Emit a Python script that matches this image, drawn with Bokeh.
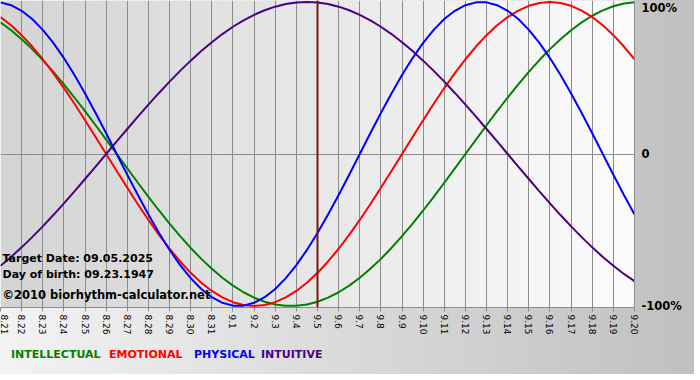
import math
import numpy as np
from bokeh.plotting import figure
from bokeh.layouts import column
from bokeh.models import Range1d, FixedTicker, Label, Span, LinearAxis, Div
from bokeh.embed import file_html
from bokeh.resources import INLINE

# ---- data ----
dates = ["8.21", "8.22", "8.23", "8.24", "8.25", "8.26", "8.27", "8.28", "8.29", "8.30", "8.31",
         "9.1", "9.2", "9.3", "9.4", "9.5", "9.6", "9.7", "9.8", "9.9", "9.10",
         "9.11", "9.12", "9.13", "9.14", "9.15", "9.16", "9.17", "9.18", "9.19", "9.20"]
target_date = "9.5"
info_target = "Target Date: 09.05.2025"
info_birth = "Day of birth: 09.23.1947"
info_copy = "\u00a92010 biorhythm-calculator.net"

# values sampled every half day, from 8.21 to 9.20
intellectual = [0.8660, 0.8146, 0.7557, 0.6901, 0.6182, 0.5406, 0.4582, 0.3717, 0.2817, 0.1893, 0.0951,
                0.0,
                -0.0951, -0.1893, -0.2817, -0.3717, -0.4582, -0.5406, -0.6182, -0.6901, -0.7557, -0.8146,
                -0.8660, -0.9096, -0.9450, -0.9718, -0.9898, -0.9989, -0.9989, -0.9898, -0.9718, -0.9450,
                -0.9096, -0.8660, -0.8146, -0.7557, -0.6901, -0.6182, -0.5406, -0.4582, -0.3717, -0.2817,
                -0.1893, -0.0951,
                0.0,
                0.0951, 0.1893, 0.2817, 0.3717, 0.4582, 0.5406, 0.6182, 0.6901, 0.7557, 0.8146, 0.8660,
                0.9096, 0.9450, 0.9718, 0.9898, 0.9989]
emotional = [0.9010, 0.8467, 0.7818, 0.7071, 0.6235, 0.5320, 0.4339, 0.3303, 0.2225, 0.1120,
             0.0,
             -0.1120, -0.2225, -0.3303, -0.4339, -0.5320, -0.6235, -0.7071, -0.7818, -0.8467, -0.9010,
             -0.9439, -0.9749, -0.9937, -1.0, -0.9937, -0.9749, -0.9439, -0.9010, -0.8467, -0.7818,
             -0.7071, -0.6235, -0.5320, -0.4339, -0.3303, -0.2225, -0.1120,
             0.0,
             0.1120, 0.2225, 0.3303, 0.4339, 0.5320, 0.6235, 0.7071, 0.7818, 0.8467, 0.9010, 0.9439,
             0.9749, 0.9937, 1.0, 0.9937, 0.9749, 0.9439, 0.9010, 0.8467, 0.7818, 0.7071, 0.6235]
physical = [0.9977, 0.9791, 0.9423, 0.8879, 0.8170, 0.7308, 0.6311, 0.5196, 0.3984, 0.2698, 0.1362,
            0.0,
            -0.1362, -0.2698, -0.3984, -0.5196, -0.6311, -0.7308, -0.8170, -0.8879, -0.9423, -0.9791,
            -0.9977, -0.9977, -0.9791, -0.9423, -0.8879, -0.8170, -0.7308, -0.6311, -0.5196, -0.3984,
            -0.2698, -0.1362,
            0.0,
            0.1362, 0.2698, 0.3984, 0.5196, 0.6311, 0.7308, 0.8170, 0.8879, 0.9423, 0.9791, 0.9977,
            0.9977, 0.9791, 0.9423, 0.8879, 0.8170, 0.7308, 0.6311, 0.5196, 0.3984, 0.2698, 0.1362,
            0.0,
            -0.1362, -0.2698, -0.3984]
intuitive = [-0.7357, -0.6773, -0.6142, -0.5469, -0.4759, -0.4017, -0.3247, -0.2455, -0.1646, -0.0826,
             0.0,
             0.0826, 0.1646, 0.2455, 0.3247, 0.4017, 0.4759, 0.5469, 0.6142, 0.6773, 0.7357, 0.7891,
             0.8372, 0.8795, 0.9158, 0.9458, 0.9694, 0.9864, 0.9966, 1.0, 0.9966, 0.9864, 0.9694,
             0.9458, 0.9158, 0.8795, 0.8372, 0.7891, 0.7357, 0.6773, 0.6142, 0.5469, 0.4759, 0.4017,
             0.3247, 0.2455, 0.1646, 0.0826,
             0.0,
             -0.0826, -0.1646, -0.2455, -0.3247, -0.4017, -0.4759, -0.5469, -0.6142, -0.6773, -0.7357,
             -0.7891, -0.8372]

series_names = ["INTELLECTUAL", "EMOTIONAL", "PHYSICAL", "INTUITIVE"]
series_colors = ["#008000", "#ff0000", "#0000ff", "#4b0082"]
y_tick_labels = ["-100%", "0", "100%"]

x_day = list(range(len(dates)))
x_half = [i / 2 for i in range(len(physical))]
x_max = len(dates) - 1
YL = 1.01

FONT = "DejaVu Sans"
GRID = "#8c8c8c"

p = figure(width=684, height=342, output_backend="svg", toolbar_location=None,
           x_range=Range1d(0, x_max), y_range=Range1d(-YL, YL),
           min_border_left=0, min_border_top=0, min_border_right=48, min_border_bottom=35,
           y_axis_location=None)
p.outline_line_color = None
p.border_fill_color = None

# frame background gradient (darker left -> light right)
n = 256
img = np.zeros((1, n), dtype=np.uint32)
view = img.view(dtype=np.uint8).reshape((1, n, 4))
g = np.linspace(212, 252, n).astype(np.uint8)
view[0, :, 0] = g
view[0, :, 1] = g
view[0, :, 2] = g
view[0, :, 3] = 255
p.image_rgba(image=[img], x=0, y=-YL, dw=x_max, dh=2 * YL, level="image")

# grids
p.xgrid.ticker = FixedTicker(ticks=x_day)
p.xgrid.grid_line_color = GRID
p.ygrid.ticker = FixedTicker(ticks=[0])
p.ygrid.grid_line_color = GRID

# bottom axis with rotated date labels
ax = p.xaxis[0]
ax.ticker = FixedTicker(ticks=x_day)
ax.major_label_overrides = {i: d for i, d in enumerate(dates)}
ax.major_label_orientation = -math.pi / 2
ax.major_label_text_font = FONT
ax.major_label_text_font_size = "9px"
ax.major_label_text_color = "#000000"
ax.major_label_standoff = 3
ax.major_tick_in = 0
ax.major_tick_out = 4
ax.major_tick_line_color = GRID
ax.minor_tick_line_color = None
ax.axis_line_color = GRID

# right axis with percentage labels (top label sits just under the frame top)
top_pos = 0.96
rax = LinearAxis(ticker=FixedTicker(ticks=[-1, 0, top_pos]),
                 major_label_overrides={-1: y_tick_labels[0], 0: y_tick_labels[1], top_pos: y_tick_labels[2]},
                 major_tick_in=0, major_tick_out=0, minor_tick_line_color=None,
                 axis_line_color=GRID, major_label_standoff=7,
                 major_label_text_font=FONT, major_label_text_font_size="11.5px",
                 major_label_text_font_style="bold", major_label_text_color="#000000")
p.add_layout(rax, "right")

# curves
for vals, col in zip([intellectual, emotional, physical, intuitive], series_colors):
    p.line(x_half, vals, line_color=col, line_width=2)

# target date line
p.add_layout(Span(location=dates.index(target_date), dimension="height",
                  line_color="#7a1414", line_width=2))

# info texts inside the plot
info = [(info_target, 49, "11px"),
        (info_birth, 33, "11px"),
        (info_copy, 13, "11.5px")]
for txt, off, fs in info:
    p.add_layout(Label(x=0, y=-YL, x_offset=2, y_offset=off, text=txt, text_baseline="middle",
                       text_font=FONT, text_font_size=fs, text_font_style="bold",
                       text_color="#000000"))

# legend line below the chart
legend_left = [6, 104, 189, 256]
spans = "".join(
    f'<span style="position:absolute;left:{lx}px;top:0px;color:{c}">{nm}</span>'
    for nm, c, lx in zip(series_names, series_colors, legend_left))
legend = Div(text=f'<div style="position:relative;height:16px;">{spans}</div>',
             width=684, height=22,
             styles={"font-family": FONT, "font-size": "11px", "font-weight": "bold",
                     "line-height": "16px"})

layout = column(p, legend, spacing=0,
                styles={"background": "linear-gradient(to right, #f3f3f3, #c0c0c0)"})

open("out.html", "w").write(file_html(layout, INLINE))
